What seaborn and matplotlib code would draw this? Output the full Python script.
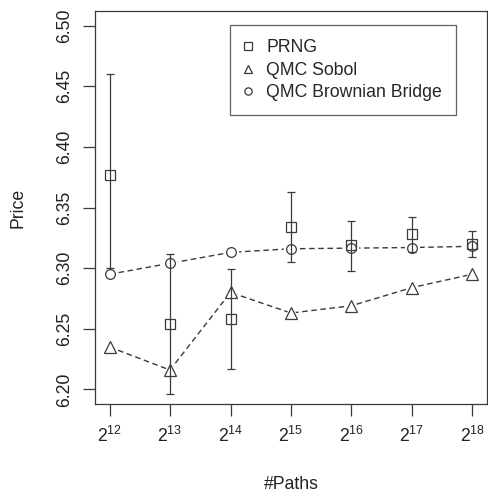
import numpy as np
import pandas as pd
import seaborn as sns
import matplotlib.pyplot as plt

# data
n_paths = [4096, 8192, 16384, 32768, 65536, 131072, 262144]
tick_labels = ['$2^{12}$', '$2^{13}$', '$2^{14}$', '$2^{15}$', '$2^{16}$', '$2^{17}$', '$2^{18}$']
prng = [6.377, 6.254, 6.258, 6.334, 6.319, 6.328, 6.320]
prng_err_lo = [0.077, 0.058, 0.041, 0.029, 0.021, 0.015, 0.0105]
prng_err_hi = [0.083, 0.058, 0.041, 0.029, 0.020, 0.0145, 0.0105]
sobol = [6.235, 6.216, 6.280, 6.263, 6.269, 6.284, 6.295]
bridge = [6.295, 6.304, 6.313, 6.316, 6.3165, 6.317, 6.318]
y_ticks = [6.20, 6.25, 6.30, 6.35, 6.40, 6.45, 6.50]

sns.set_style("white")
plt.rcParams['font.family'] = ['Liberation Sans', 'DejaVu Sans']
plt.rcParams['mathtext.fontset'] = 'custom'
plt.rcParams['mathtext.rm'] = 'Liberation Sans'
plt.rcParams['mathtext.it'] = 'Liberation Sans'
plt.rcParams['font.size'] = 12.7

ink = '#3a3a3a'

df = pd.DataFrame({'paths': n_paths, 'prng': prng, 'sobol': sobol, 'bridge': bridge})

fig = plt.figure(figsize=(4.89, 4.92), dpi=100)
ax = fig.add_axes([95 / 489, 1 - 404 / 492, 392 / 489, 393 / 492])
ax.set_xscale('log', base=2)

# dashed connecting lines (R type="b")
for col in ['sobol', 'bridge']:
    sns.lineplot(data=df, x='paths', y=col, ax=ax, color=ink, lw=1,
                 linestyle=(0, (4, 2.6)), zorder=1)

# white blobs to make the gaps around points
ax.plot(df['paths'], df['sobol'], ls='none', marker='^', ms=11, mfc='white',
        mec='white', zorder=2)
ax.plot(df['paths'], df['bridge'], ls='none', marker='o', ms=10, mfc='white',
        mec='white', zorder=2)

# PRNG error bars
ax.errorbar(df['paths'], df['prng'], yerr=[prng_err_lo, prng_err_hi], fmt='none',
            ecolor=ink, elinewidth=0.9, capsize=2.6, capthick=0.9, zorder=3)

ax.plot(df['paths'], df['prng'], ls='none', marker='s', ms=7, mfc='none',
        mec=ink, mew=0.9, zorder=4, label='PRNG')
ax.plot(df['paths'], df['sobol'], ls='none', marker='^', ms=8, mfc='none',
        mec=ink, mew=0.9, zorder=4, label='QMC Sobol')
ax.plot(df['paths'], df['bridge'], ls='none', marker='o', ms=7, mfc='none',
        mec=ink, mew=0.9, zorder=4, label='QMC Brownian Bridge')

ax.set_xlim(2 ** 11.76, 2 ** 18.24)
ax.set_ylim(6.188, 6.512)
ax.set_xticks(n_paths)
ax.set_xticklabels(tick_labels)
ax.minorticks_off()
ax.set_yticks(y_ticks)
ax.set_yticklabels([f'{v:.2f}' for v in y_ticks], rotation=90, va='center')

for s in ax.spines.values():
    s.set_visible(True)
    s.set_color(ink)
    s.set_linewidth(0.9)
ax.tick_params(axis='both', direction='out', length=8.5, width=0.9, color=ink,
               labelcolor='#222222', bottom=True, left=True)
ax.tick_params(axis='y', pad=7)
ax.tick_params(axis='x', pad=7.5)

ax.set_xlabel('#Paths', color='#222222')
ax.set_ylabel('Price', color='#222222')
ax.xaxis.set_label_coords(0.5, -0.206)
ax.xaxis.label.set_va('center')
ax.yaxis.set_label_coords(-0.196, 0.5)
ax.yaxis.label.set_va('center')

leg = ax.legend(loc='upper left', bbox_to_anchor=(0.344, 0.964), borderaxespad=0,
                frameon=True, fancybox=False, edgecolor=ink, handlelength=0.5,
                handletextpad=0.75, labelspacing=0.31, borderpad=0.8, markerscale=0.75)
leg.get_frame().set_linewidth(0.9)

fig.savefig('out.png', dpi=100)
